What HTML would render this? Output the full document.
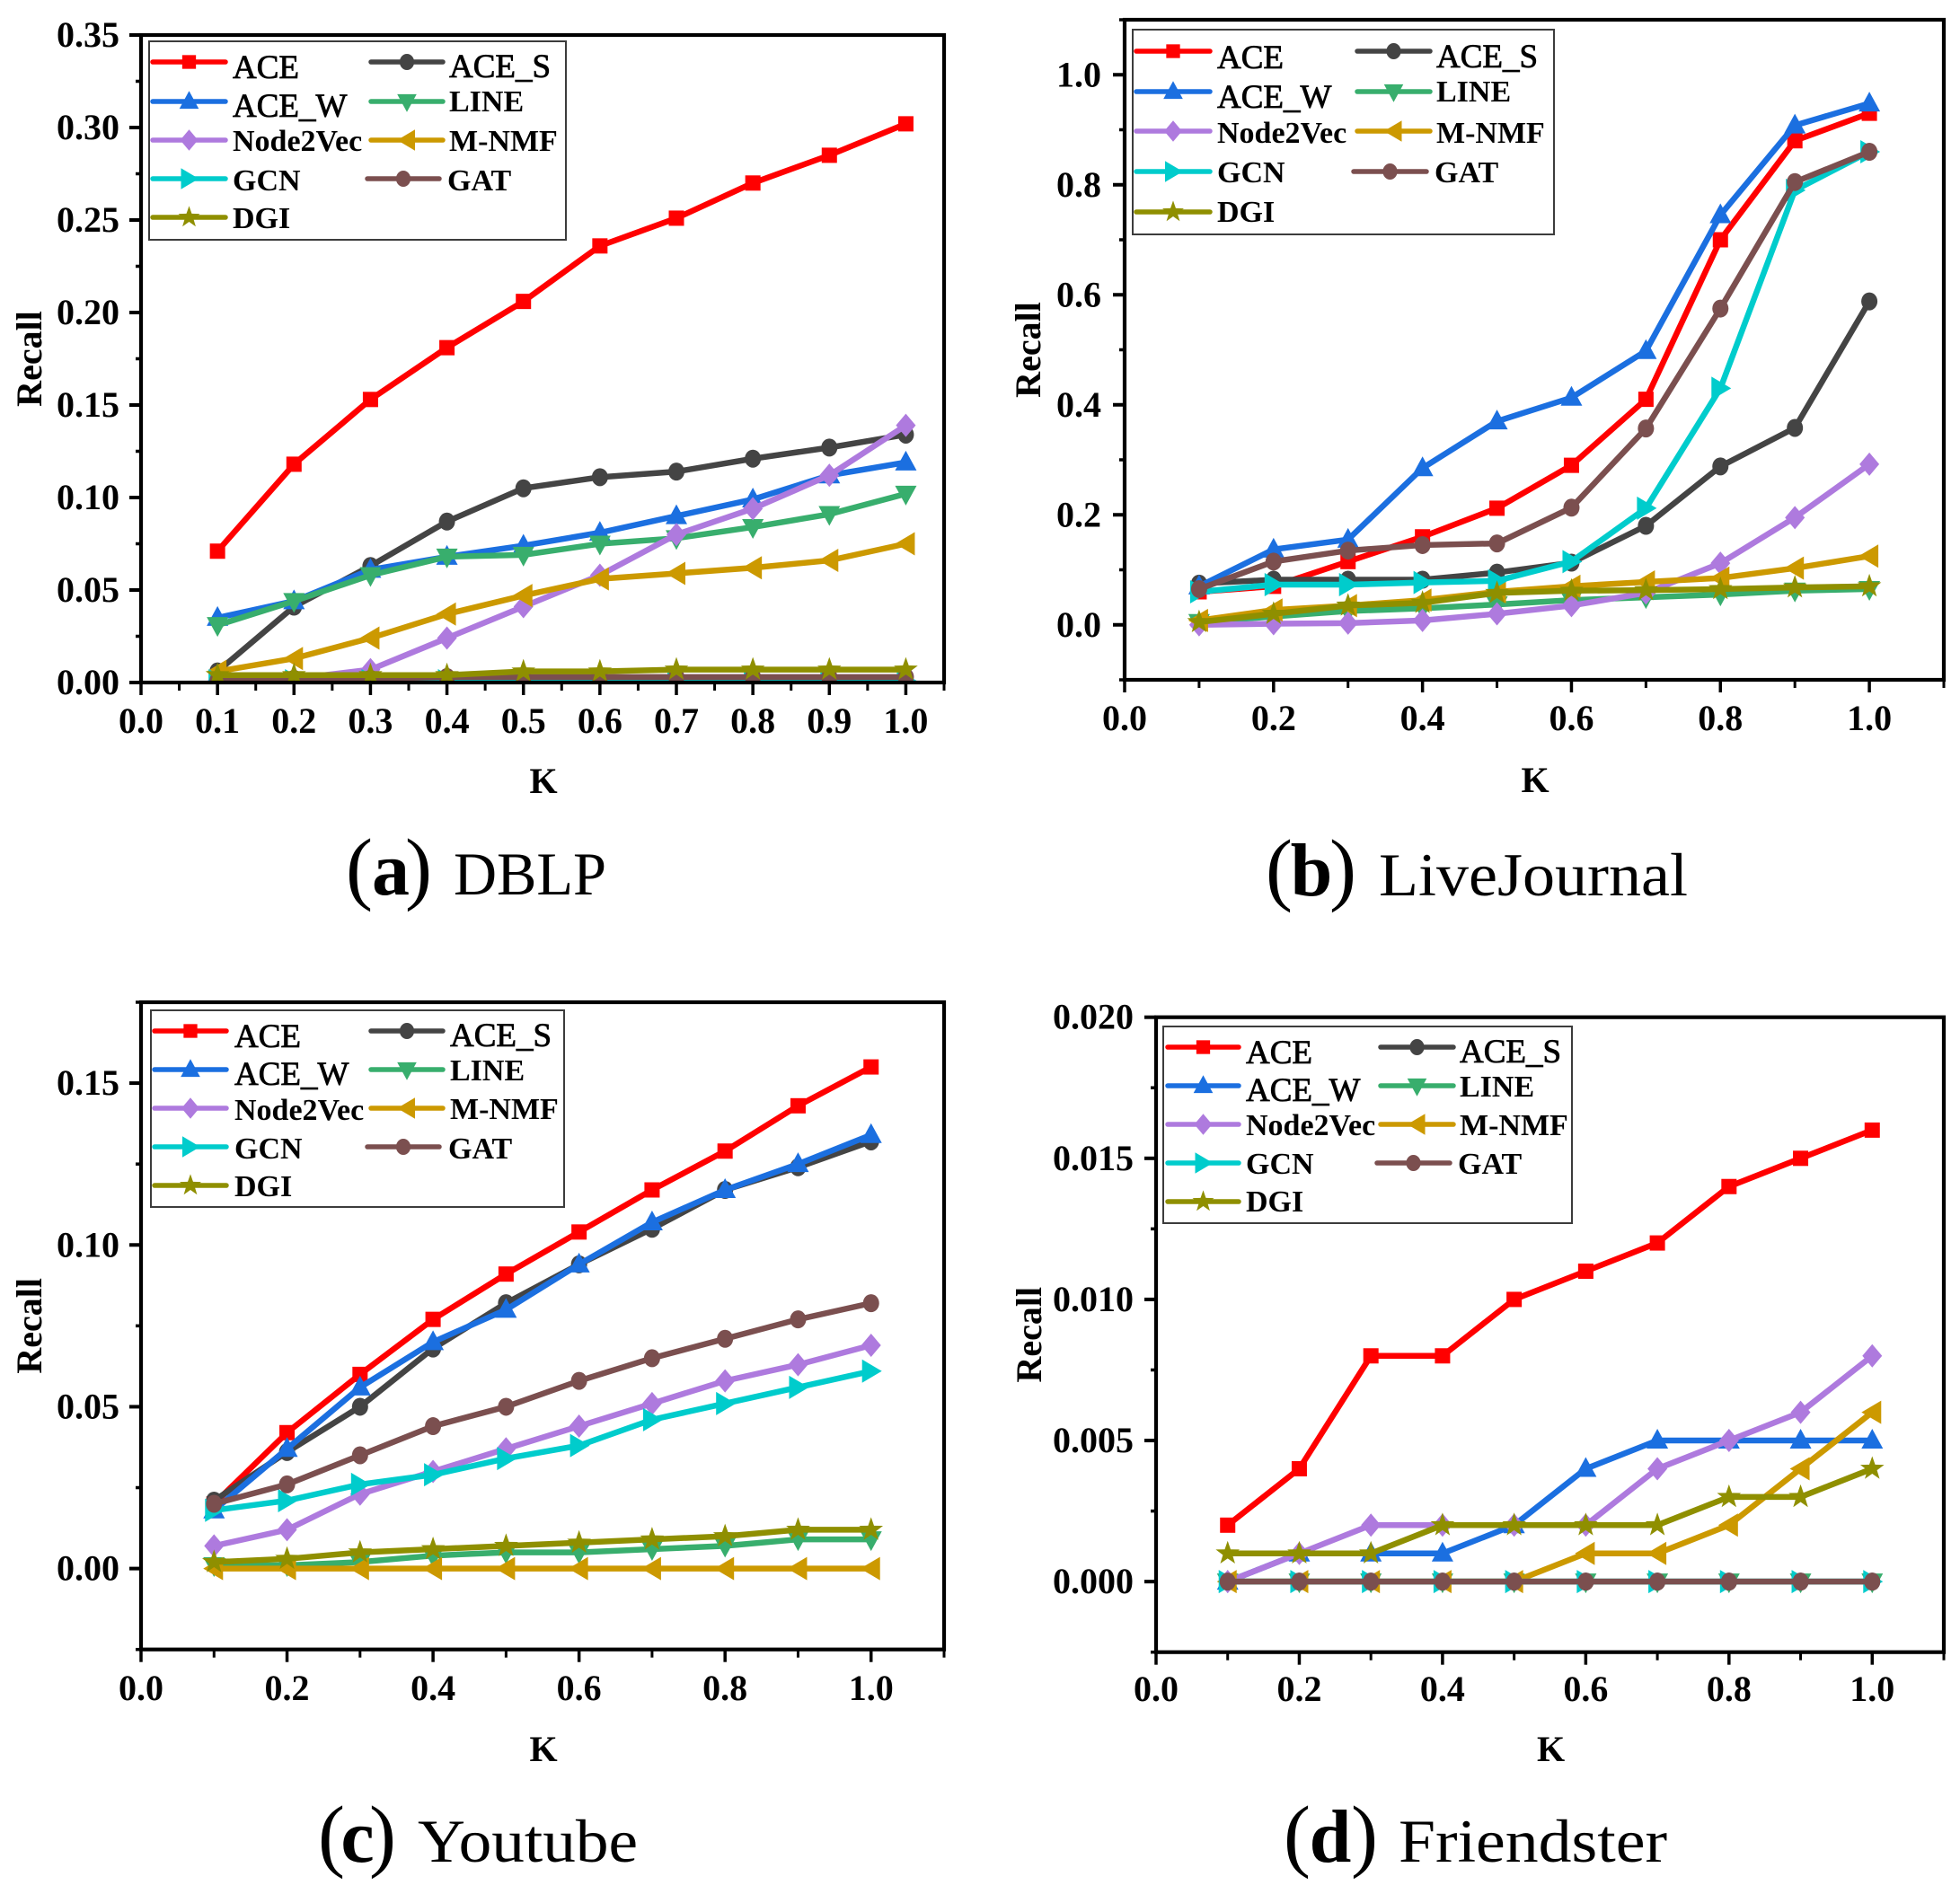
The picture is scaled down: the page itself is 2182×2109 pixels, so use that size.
<!DOCTYPE html>
<html lang="en">
<head>
<meta charset="utf-8">
<title>Recall versus K on four datasets</title>
<style>
html,body{margin:0;padding:0;background:#fff;width:2182px;height:2109px;overflow:hidden}
svg{display:block}
text{font-family:"Liberation Serif",serif;fill:#000}
</style>
</head>
<body>
<svg id="figure" xmlns="http://www.w3.org/2000/svg" width="2182" height="2109" viewBox="0 0 2182 2109">
<rect x="0" y="0" width="2182" height="2109" fill="#fff"/>
</svg>
<script>
const kValues=[0.1,0.2,0.3,0.4,0.5,0.6,0.7,0.8,0.9,1.0];
const seriesNames=["ACE","ACE_S","ACE_W","LINE","Node2Vec","M-NMF","GCN","GAT","DGI"];

const dblpACE=[0.071,0.118,0.153,0.181,0.206,0.236,0.251,0.270,0.285,0.302];
const dblpACES=[0.006,0.041,0.063,0.087,0.105,0.111,0.114,0.121,0.127,0.134];
const dblpACEW=[0.035,0.044,0.061,0.068,0.074,0.081,0.090,0.099,0.112,0.119];
const dblpLINE=[0.031,0.044,0.058,0.068,0.069,0.075,0.078,0.084,0.091,0.102];
const dblpNode2Vec=[0.001,0.002,0.007,0.024,0.041,0.058,0.080,0.094,0.112,0.139];
const dblpMNMF=[0.006,0.013,0.024,0.037,0.047,0.056,0.059,0.062,0.066,0.075];
const dblpGCN=[0.001,0.001,0.001,0.001,0.001,0.001,0.001,0.001,0.001,0.001];
const dblpGAT=[0.001,0.002,0.002,0.003,0.003,0.003,0.003,0.003,0.003,0.003];
const dblpDGI=[0.004,0.004,0.004,0.004,0.006,0.006,0.007,0.007,0.007,0.007];

const ljACE=[0.06,0.07,0.115,0.16,0.212,0.29,0.41,0.70,0.88,0.93];
const ljACES=[0.075,0.082,0.082,0.082,0.095,0.113,0.18,0.288,0.358,0.588];
const ljACEW=[0.07,0.137,0.155,0.285,0.37,0.413,0.498,0.745,0.908,0.948];
const ljLINE=[0.005,0.015,0.025,0.03,0.037,0.045,0.05,0.055,0.062,0.065];
const ljNode2Vec=[0,0.002,0.003,0.008,0.02,0.035,0.058,0.112,0.195,0.292];
const ljMNMF=[0.008,0.027,0.035,0.045,0.06,0.07,0.078,0.085,0.103,0.125];
const ljGCN=[0.06,0.073,0.073,0.077,0.08,0.115,0.212,0.43,0.79,0.86];
const ljGAT=[0.065,0.115,0.135,0.145,0.148,0.213,0.357,0.575,0.805,0.86];
const ljDGI=[0.005,0.02,0.035,0.04,0.058,0.062,0.063,0.065,0.068,0.07];

const ytACE=[0.02,0.042,0.06,0.077,0.091,0.104,0.117,0.129,0.143,0.155];
const ytACES=[0.021,0.036,0.05,0.068,0.082,0.094,0.105,0.117,0.124,0.132];
const ytACEW=[0.018,0.037,0.056,0.07,0.08,0.094,0.107,0.117,0.125,0.134];
const ytLINE=[0.001,0.001,0.002,0.004,0.005,0.005,0.006,0.007,0.009,0.009];
const ytNode2Vec=[0.007,0.012,0.023,0.03,0.037,0.044,0.051,0.058,0.063,0.069];
const ytMNMF=[0,0,0,0,0,0,0,0,0,0];
const ytGCN=[0.018,0.021,0.026,0.029,0.034,0.038,0.046,0.051,0.056,0.061];
const ytGAT=[0.02,0.026,0.035,0.044,0.05,0.058,0.065,0.071,0.077,0.082];
const ytDGI=[0.002,0.003,0.005,0.006,0.007,0.008,0.009,0.01,0.012,0.012];

const frACE=[0.002,0.004,0.008,0.008,0.01,0.011,0.012,0.014,0.015,0.016];
const frACES=[0,0,0,0,0,0,0,0,0,0];
const frACEW=[0,0.001,0.001,0.001,0.002,0.004,0.005,0.005,0.005,0.005];
const frLINE=[0,0,0,0,0,0,0,0,0,0];
const frNode2Vec=[0,0.001,0.002,0.002,0.002,0.002,0.004,0.005,0.006,0.008];
const frMNMF=[0,0,0,0,0,0.001,0.001,0.002,0.004,0.006];
const frGCN=[0,0,0,0,0,0,0,0,0,0];
const frGAT=[0,0,0,0,0,0,0,0,0,0];
const frDGI=[0.001,0.001,0.001,0.002,0.002,0.002,0.002,0.003,0.003,0.004];

const dblpXMajor=[0,0.1,0.2,0.3,0.4,0.5,0.6,0.7,0.8,0.9,1.0];
const dblpXMinor=[0.05,0.15,0.25,0.35,0.45,0.55,0.65,0.75,0.85,0.95,1.05];
const wideXMajor=[0,0.2,0.4,0.6,0.8,1.0];
const wideXMinor=[0.1,0.3,0.5,0.7,0.9,1.1];
const dblpYMajor=[0,0.05,0.10,0.15,0.20,0.25,0.30,0.35];
const dblpYMinor=[0.025,0.075,0.125,0.175,0.225,0.275,0.325];
const ljYMajor=[0,0.2,0.4,0.6,0.8,1.0];
const ljYMinor=[-0.1,0.1,0.3,0.5,0.7,0.9,1.1];
const ytYMajor=[0,0.05,0.10,0.15];
const ytYMinor=[-0.025,0.025,0.075,0.125,0.175];
const frYMajor=[0,0.005,0.010,0.015,0.020];
const frYMinor=[-0.0025,0.0025,0.0075,0.0125,0.0175];

const NS="http://www.w3.org/2000/svg";
const root=document.getElementById("figure");
const colors=["#ff0000","#444444","#1b6fe0","#38ae6d","#ae7ade","#cc9900","#00cccc","#7b4f4f","#8f8f00"];
const shapes=["square","circle","up","down","diamond","left","right","circle2","star"];

function make(parent,tag,attrs,txt){
  const e=document.createElementNS(NS,tag);
  for(const k in attrs){e.setAttribute(k,attrs[k]);}
  if(txt!==undefined){e.textContent=txt;}
  parent.appendChild(e);
  return e;
}
function slug(s){return s.toLowerCase().replace(/[^a-z0-9]+/g,"-");}

function marker(parent,shape,cx,cy,color,scale){
  const s=scale||1;
  let e;
  if(shape==="square"){
    e=make(parent,"rect",{x:cx-8.5*s,y:cy-8.5*s,width:17*s,height:17*s,fill:color});
  }else if(shape==="circle"||shape==="circle2"){
    e=make(parent,"ellipse",{cx:cx,cy:cy,rx:9*s,ry:10*s,fill:color});
  }else{
    let pts=[];
    if(shape==="up"){pts=[[0,-13],[12,9],[-12,9]];}
    if(shape==="down"){pts=[[0,13],[12,-9],[-12,-9]];}
    if(shape==="left"){pts=[[-12,0],[10,-13],[10,13]];}
    if(shape==="right"){pts=[[12,0],[-10,-13],[-10,13]];}
    if(shape==="diamond"){pts=[[0,-13],[11,0],[0,13],[-11,0]];}
    if(shape==="star"){
      for(let i=0;i<10;i++){
        const r=i%2===0?14:5.6;
        const a=-Math.PI/2+i*Math.PI/5;
        pts.push([r*Math.cos(a),r*Math.sin(a)]);
      }
    }
    e=make(parent,"polygon",{points:pts.map(p=>(cx+p[0]*s)+","+(cy+p[1]*s)).join(" "),fill:color});
  }
  return e;
}

function drawPanel(cfg,seriesValues){
  const g=make(root,"g",{});
  
  
  const xScale=v=>cfg.x0+(v-cfg.xMin)/(cfg.xMax-cfg.xMin)*(cfg.x1-cfg.x0);
  const yScale=v=>cfg.y0-(v-cfg.yMin)/(cfg.yMax-cfg.yMin)*(cfg.y0-cfg.y1);

  const defs=make(g,"defs",{});
  const clip=make(defs,"clipPath",{id:"clip-"+cfg.id});
  make(clip,"rect",{x:cfg.x0,y:cfg.y1,width:cfg.x1-cfg.x0,height:cfg.y0-cfg.y1});

  const plot=make(g,"g",{"clip-path":"url(#clip-"+cfg.id+")"});
  
  
  seriesValues.forEach((vals,i)=>{
    const sg=make(plot,"g",{});
    
    
    const pts=vals.map((v,j)=>xScale(kValues[j])+","+yScale(v)).join(" ");
    const line=make(sg,"polyline",{points:pts,fill:"none",stroke:colors[i],"stroke-width":6.5,"stroke-linejoin":"miter"});
    
    
    vals.forEach((v,j)=>{
      const m=marker(sg,shapes[i],xScale(kValues[j]),yScale(v),colors[i]);
      
      
    });
  });

  const axes=make(g,"g",{stroke:"#000",fill:"none"});
  
  
  const frame=make(axes,"rect",{x:cfg.x0,y:cfg.y1,width:cfg.x1-cfg.x0,height:cfg.y0-cfg.y1,"stroke-width":4.2});
  
  

  cfg.xMajor.forEach(v=>{
    const t=make(axes,"line",{x1:xScale(v),x2:xScale(v),y1:cfg.y0,y2:cfg.y0+14,"stroke-width":3.5});
    
    
    const lab=make(g,"text",{x:xScale(v),y:cfg.xLabelY,"text-anchor":"middle","font-size":40,"font-weight":"bold"},v.toFixed(1));
    
    
  });
  cfg.xMinor.forEach(v=>{
    const t=make(axes,"line",{x1:xScale(v),x2:xScale(v),y1:cfg.y0,y2:cfg.y0+9,"stroke-width":3});
    
    
  });
  cfg.yMajor.forEach(v=>{
    const t=make(axes,"line",{x1:cfg.x0-13,x2:cfg.x0,y1:yScale(v),y2:yScale(v),"stroke-width":4});
    
    
    const lab=make(g,"text",{x:cfg.x0-cfg.yLabelGap,y:yScale(v)+13,"text-anchor":"end","font-size":40,"font-weight":"bold"},v.toFixed(cfg.yDecimals));
    
    
  });
  cfg.yMinor.forEach(v=>{
    const t=make(axes,"line",{x1:cfg.x0-6,x2:cfg.x0,y1:yScale(v),y2:yScale(v),"stroke-width":3.5});
    
    
  });

  const xt=make(g,"text",{x:(cfg.x0+cfg.x1)/2+1,y:cfg.xTitleY,"text-anchor":"middle","font-size":40,"font-weight":"bold"},"K");
  
  
  const yMid=(cfg.y0+cfg.y1)/2;
  const yt=make(g,"text",{x:cfg.yTitleX,y:yMid,"text-anchor":"middle","font-size":40,"font-weight":"bold",transform:"rotate(-90 "+cfg.yTitleX+" "+yMid+")"},"Recall");
  
  

  const L=cfg.legend;
  const lg=make(g,"g",{});
  
  
  const box=make(lg,"rect",{x:L.box[0],y:L.box[1],width:L.box[2]-L.box[0],height:L.box[3]-L.box[1],fill:"#fff",stroke:"#3c3c3c","stroke-width":2});
  
  
  seriesNames.forEach((name,i)=>{
    const col=i%2;
    const row=Math.floor(i/2);
    const ly=L.rows[row];
    const h=col===0?L.col1:L.col2;
    const shift=(name==="GAT")?-4:0;
    const eg=make(lg,"g",{});
    
    
    const hl=make(eg,"line",{x1:h[0]+shift,x2:h[1]+shift,y1:ly,y2:ly,stroke:colors[i],"stroke-width":5.5,"stroke-linecap":"round"});
    
    
    const hm=marker(eg,shapes[i],(h[0]+h[1])/2+shift,ly,colors[i],0.9);
    
    
    const light=i<3;
    const attrs={x:h[2]+(name==="GAT"?-2:0),y:L.base[i]+(i===1?1:0),"font-size":light?37:34};
    if(light){attrs["stroke"]="#000";attrs["stroke-width"]=0.8;}else{attrs["font-weight"]="bold";}
    const tx=make(eg,"text",attrs,name);
    
    
  });

  const C=cfg.caption;
  const cg=make(g,"g",{});
  
  
  const p1=make(cg,"text",{x:C.open,y:C.y,"font-size":90},"(");
  
  
  const le=make(cg,"text",{x:C.letterX,y:C.y,"font-size":84,"font-weight":"bold","text-anchor":"middle"},C.letter);
  
  
  const p2=make(cg,"text",{x:C.close,y:C.y,"font-size":90},")");
  
  
  const ti=make(cg,"text",{x:C.nameX,y:C.y,"font-size":68,textLength:C.nameW,lengthAdjust:"spacingAndGlyphs"},C.name);
  
  
}

drawPanel({
  id:"a",x0:157,x1:1051,y0:760,y1:39,xMin:0,xMax:1.05,yMin:0,yMax:0.35,
  xMajor:dblpXMajor,xMinor:dblpXMinor,yMajor:dblpYMajor,yMinor:dblpYMinor,yDecimals:2,
  xLabelY:816,xTitleY:883,yTitleX:46,yLabelGap:24,
  legend:{box:[166,46,630,267],rows:[69,113,156,199,242],col1:[170,251,259],col2:[413,493,500],
    base:[87,85,130,124,168,168,212,212,254]},
  caption:{y:996,open:385,letter:"a",letterX:435,close:451,name:"DBLP",nameX:505,nameW:170}
},[dblpACE,dblpACES,dblpACEW,dblpLINE,dblpNode2Vec,dblpMNMF,dblpGCN,dblpGAT,dblpDGI]);

drawPanel({
  id:"b",x0:1252,x1:2164,y0:757,y1:22,xMin:0,xMax:1.1,yMin:-0.1,yMax:1.1,
  xMajor:wideXMajor,xMinor:wideXMinor,yMajor:ljYMajor,yMinor:ljYMinor,yDecimals:1,
  xLabelY:813,xTitleY:882,yTitleX:1158,yLabelGap:26,
  legend:{box:[1261,33,1730,261],rows:[57,102,146,191,236],col1:[1265,1347,1355],col2:[1511,1592,1599],
    base:[76,74,120,113,159,159,203,203,247]},
  caption:{y:997,open:1409,letter:"b",letterX:1460,close:1480,name:"LiveJournal",nameX:1535,nameW:344}
},[ljACE,ljACES,ljACEW,ljLINE,ljNode2Vec,ljMNMF,ljGCN,ljGAT,ljDGI]);

drawPanel({
  id:"c",x0:157,x1:1051,y0:1836.7,y1:1116,xMin:0,xMax:1.1,yMin:-0.025,yMax:0.175,
  xMajor:wideXMajor,xMinor:wideXMinor,yMajor:ytYMajor,yMinor:ytYMinor,yDecimals:2,
  xLabelY:1893,xTitleY:1961,yTitleX:46,yLabelGap:24,
  legend:{box:[168,1125,628,1344],rows:[1148,1191,1234,1277,1320],col1:[172,252,261],col2:[413,493,501],
    base:[1166,1164,1208,1203,1247,1246,1290,1290,1332]},
  caption:{y:2073,open:354,letter:"c",letterX:398,close:411,name:"Youtube",nameX:465,nameW:245}
},[ytACE,ytACES,ytACEW,ytLINE,ytNode2Vec,ytMNMF,ytGCN,ytGAT,ytDGI]);

drawPanel({
  id:"d",x0:1287,x1:2164,y0:1839.7,y1:1132.7,xMin:0,xMax:1.1,yMin:-0.0025,yMax:0.020,
  xMajor:wideXMajor,xMinor:wideXMinor,yMajor:frYMajor,yMinor:frYMinor,yDecimals:3,
  xLabelY:1894,xTitleY:1961,yTitleX:1159,yLabelGap:25,
  legend:{box:[1295,1143,1750,1362],rows:[1166,1209,1252,1295,1338],col1:[1300,1379,1387],col2:[1537,1618,1625],
    base:[1184,1182,1226,1221,1264,1264,1307,1307,1349]},
  caption:{y:2073,open:1429,letter:"d",letterX:1481,close:1504,name:"Friendster",nameX:1557,nameW:299}
},[frACE,frACES,frACEW,frLINE,frNode2Vec,frMNMF,frGCN,frGAT,frDGI]);
</script>
</body>
</html>
